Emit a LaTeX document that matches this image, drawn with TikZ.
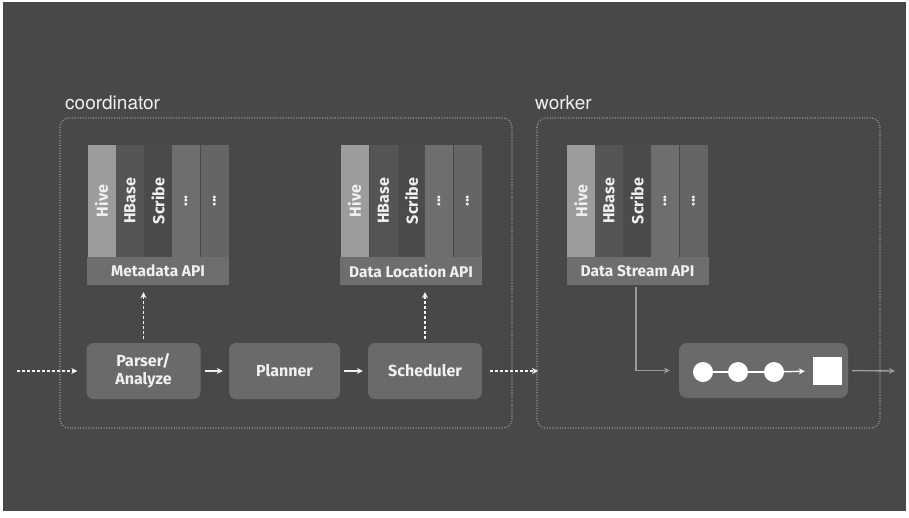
\documentclass[tikz,border=0pt]{standalone}
\usepackage{fontspec}
\setmainfont{Fira Sans}
\newfontfamily\labfont{TeX Gyre Heros}
\usetikzlibrary{arrows.meta}
\definecolor{bg}{HTML}{484848}
\definecolor{hive}{HTML}{9C9C9C}
\definecolor{hbase}{HTML}{555555}
\definecolor{scribe}{HTML}{4B4B4B}
\definecolor{dotsA}{HTML}{6E6E6E}
\definecolor{dotsB}{HTML}{656565}
\definecolor{bar}{HTML}{6E6E6E}
\definecolor{proc}{HTML}{6A6A6A}
\definecolor{frameline}{HTML}{9A9A9A}
\definecolor{txt}{HTML}{F0F0F0}
\tikzset{
  col/.style={rotate=90, minimum width=112pt, minimum height=28pt, inner sep=0pt,
    text=txt, font=\bfseries\fontsize{16}{16}\selectfont},
  apibar/.style={minimum width=142pt, minimum height=28pt, inner sep=0pt, fill=bar,
    text=txt, font=\bfseries\fontsize{15.5}{16}\selectfont},
  procbox/.style={rounded corners=7pt, fill=proc, minimum width=114pt, minimum height=56pt,
    inner sep=0pt, text=txt, align=center, font=\bfseries\fontsize{16}{18}\selectfont},
  group/.style={draw=frameline, line width=1.1pt, dash pattern=on 1pt off 1.6pt, rounded corners=9pt},
  grouplabel/.style={anchor=base west, inner sep=0pt, text=txt, font=\labfont\fontsize{19}{20}\selectfont},
  solidarrow/.style={draw=txt, line width=1.4pt, -{Stealth[length=6pt,width=6pt]}},
  dotarrow/.style={draw=txt, line width=1.4pt, dash pattern=on 2.5pt off 2.5pt, -{Stealth[length=6pt,width=6pt]}},
  grayarrow/.style={draw=frameline, line width=1.4pt, -{Stealth[length=6pt,width=6pt]}},
  dotnode/.style={circle, fill=white, minimum size=20pt, inner sep=0pt}
}
\begin{document}
\begin{tikzpicture}[x=1pt,y=-1pt]
\fill[white] (0,0) rectangle (909,517);
\fill[bg] (3,2) rectangle (906,511);
\useasboundingbox (0,0) rectangle (909,517);

% groups
\draw[group] (60,118) rectangle (512,428);
\draw[group] (537,118) rectangle (880,428);
\node[grouplabel] (lcoord) at (65,109) {coordinator};
\node[grouplabel] (lwork) at (535,109) {worker};

% Metadata API stack
\node[col, fill=hive]   (m1) at (101.5,201) {Hive};
\node[col, fill=hbase]  (m2) at (130,201) {HBase};
\node[col, fill=scribe] (m3) at (158,201) {Scribe};
\node[col, fill=dotsA]  (m4) at (186,201) {...};
\node[col, fill=dotsB]  (m5) at (214.5,201) {...};
\node[apibar] (meta) at (158,271) {Metadata API};

% Data Location API stack
\node[col, fill=hive]   (l1) at (354.5,201) {Hive};
\node[col, fill=hbase]  (l2) at (383.5,201) {HBase};
\node[col, fill=scribe] (l3) at (411.5,201) {Scribe};
\node[col, fill=dotsA]  (l4) at (439,201) {...};
\node[col, fill=dotsB]  (l5) at (467.5,201) {...};
\node[apibar] (loc) at (411,271) {Data Location API};

% Data Stream API stack
\node[col, fill=hive]   (s1) at (581,201) {Hive};
\node[col, fill=hbase]  (s2) at (609,201) {HBase};
\node[col, fill=scribe] (s3) at (637,201) {Scribe};
\node[col, fill=dotsA]  (s4) at (665,201) {...};
\node[col, fill=dotsB]  (s5) at (693.5,201) {...};
\node[apibar] (stream) at (637.5,271) {Data Stream API};

% process boxes
\node[procbox] (parser) at (143.5,371) {Parser/\\Analyze};
\node[procbox, minimum width=111pt] (planner) at (284.5,371) {Planner};
\node[procbox] (sched) at (425,371) {Scheduler};

% worker pipeline
\node[rounded corners=8pt, fill=proc, minimum width=169pt, minimum height=55pt, inner sep=0pt] (pipe) at (763.5,370.5) {};
\node[dotnode] (c1) at (703,372) {};
\node[dotnode] (c2) at (738,372) {};
\node[dotnode] (c3) at (774,372) {};
\node[fill=white, minimum width=29pt, minimum height=28pt, inner sep=0pt] (sq) at (827.5,371) {};

% coordinates
\coordinate (inL) at (17,371);
\coordinate (outC) at (538,371);
\coordinate (dsout) at (636,287);
\coordinate (outW) at (895,371);

% connectors
\draw[dotarrow, shorten >=9pt] (inL) -- (parser.west);
\draw[solidarrow, shorten <=4pt, shorten >=6pt] (parser.east) -- (planner.west);
\draw[solidarrow, shorten <=4pt, shorten >=5pt] (planner.east) -- (sched.west);
\draw[dotarrow, shorten <=8pt] (sched.east) -- (outC);
\draw[dotarrow, shorten <=4pt, shorten >=7pt] (parser.north) -- (parser.north |- meta.south);
\draw[dotarrow, shorten <=4pt, shorten >=7pt] (sched.north) -- (sched.north |- loc.south);
\draw[grayarrow, shorten >=9pt] (dsout) |- (pipe.west);
\draw[draw=white, line width=1.4pt] (c1) -- (c2) -- (c3);
\draw[solidarrow, draw=white, shorten >=8pt] (c3) -- (sq.west);
\draw[grayarrow, shorten <=4pt] (pipe.east) -- (outW);
\end{tikzpicture}
\end{document}
